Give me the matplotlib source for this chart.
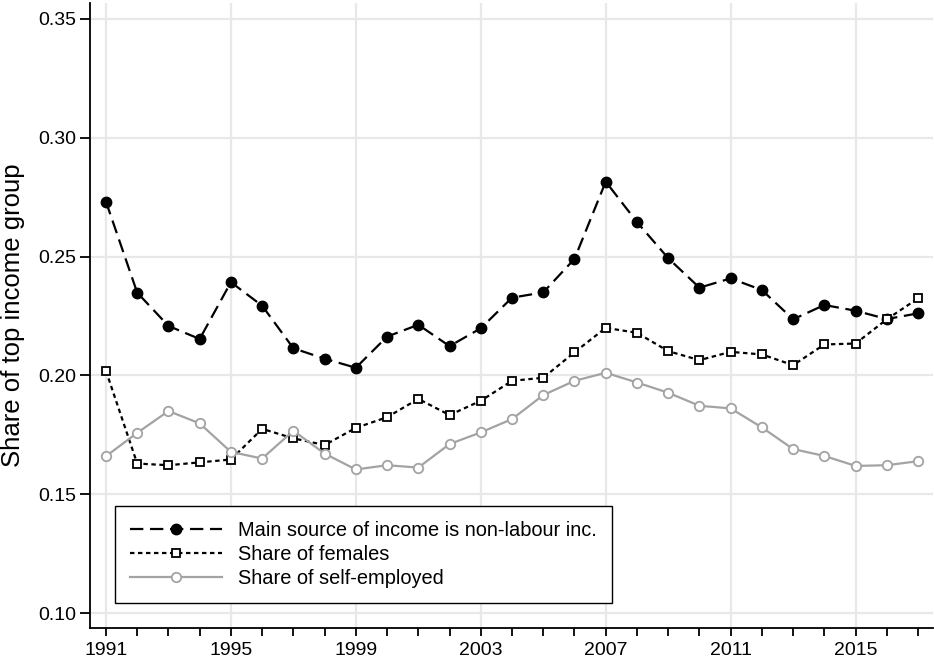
import matplotlib
matplotlib.use("Agg")
import matplotlib.pyplot as plt
from matplotlib.ticker import MultipleLocator

plt.rcParams["font.family"] = ["Liberation Sans", "DejaVu Sans"]

years = list(range(1991, 2018))

non_labour = [0.2731, 0.2348, 0.2208, 0.2153, 0.2392, 0.2293, 0.2114, 0.2070, 0.2032,
              0.2163, 0.2213, 0.2123, 0.2198, 0.2327, 0.2349, 0.2490, 0.2815, 0.2645,
              0.2493, 0.2369, 0.2408, 0.2359, 0.2236, 0.2296, 0.2272, 0.2237, 0.2261]

females = [0.2019, 0.1629, 0.1622, 0.1634, 0.1646, 0.1775, 0.1735, 0.1707, 0.1779,
           0.1824, 0.1901, 0.1833, 0.1893, 0.1977, 0.1990, 0.2097, 0.2200, 0.2179,
           0.2102, 0.2064, 0.2099, 0.2088, 0.2043, 0.2130, 0.2134, 0.2236, 0.2324]

self_employed = [0.1660, 0.1758, 0.1850, 0.1798, 0.1678, 0.1650, 0.1767, 0.1671, 0.1604,
                 0.1622, 0.1612, 0.1711, 0.1760, 0.1816, 0.1917, 0.1977, 0.2011, 0.1970,
                 0.1927, 0.1872, 0.1861, 0.1781, 0.1690, 0.1661, 0.1619, 0.1622, 0.1639]

labels = ["Main source of income is non-labour inc.", "Share of females",
          "Share of self-employed"]

fig = plt.figure(figsize=(9.34, 6.65), dpi=100)
ax = fig.add_axes([0.0964, 0.0556, 0.9026, 0.94])

ax.plot(years, non_labour, color="black", lw=1.6, dashes=(6, 3),
        marker="o", ms=7.5, mfc="black", mec="black", label=labels[0], zorder=3)
ax.plot(years, females, color="black", lw=1.6, dashes=(2, 1.6),
        marker="s", ms=6.3, mfc="white", mec="black", mew=1.3, label=labels[1], zorder=4)
ax.plot(years, self_employed, color="#a3a3a3", lw=1.6,
        marker="o", ms=6.8, mfc="white", mec="#a3a3a3", mew=1.3, label=labels[2], zorder=5)

ax.set_xlim(1990.49, 2017.48)
ax.set_ylim(0.0937, 0.3567)
ax.xaxis.set_minor_locator(MultipleLocator(1))
ax.set_xticks(range(1991, 2018, 4))
ax.set_yticks([0.10, 0.15, 0.20, 0.25, 0.30, 0.35])
ax.set_yticklabels(["0.10", "0.15", "0.20", "0.25", "0.30", "0.35"])

ax.grid(True, which="major", color="#e8e8e8", lw=1.6, zorder=0)
ax.set_axisbelow(True)

for s in ["top", "right"]:
    ax.spines[s].set_visible(False)
for s in ["left", "bottom"]:
    ax.spines[s].set_linewidth(1.3)

ax.tick_params(axis="both", which="both", direction="out", width=1.3, labelsize=14)
ax.tick_params(axis="y", length=7, pad=3)
ax.tick_params(axis="x", which="both", length=6, pad=4)

ax.set_ylabel("Share of top income group", fontsize=18.5)
ax.yaxis.set_label_coords(-0.077, 0.5)

leg = ax.legend(loc="lower left", bbox_to_anchor=(0.03, 0.04), borderaxespad=0,
                fancybox=False, framealpha=1, edgecolor="black", fontsize=14.4,
                handlelength=4.6, handletextpad=0.8, borderpad=0.75, labelspacing=0.25)
leg.get_frame().set_linewidth(1.0)

fig.savefig("out.png", dpi=100)
